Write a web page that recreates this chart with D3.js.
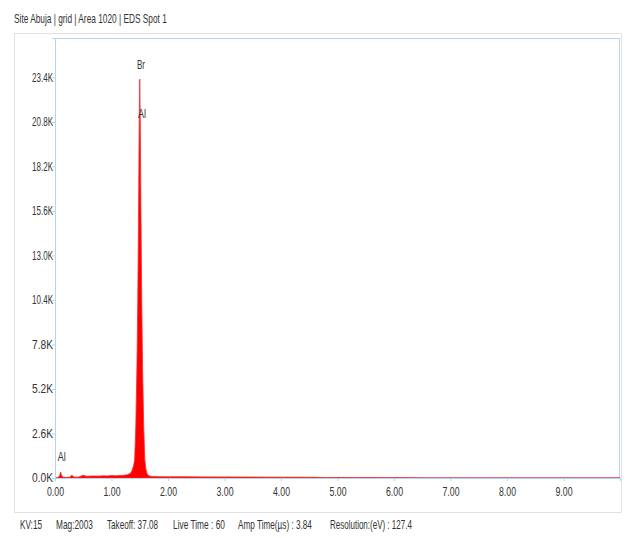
<!DOCTYPE html>
<html><head><meta charset="utf-8">
<script src="https://cdn.jsdelivr.net/npm/d3@7"></script>
<style>
body{margin:0;background:#fff;}
text{font-family:"Liberation Sans",Arial,sans-serif;fill:#333;}
</style></head><body>
<svg id="c" width="626" height="538"></svg>
<script>
const title = "Site Abuja | grid | Area 1020 | EDS Spot 1";
const footer = ["KV:15","Mag:2003","Takeoff: 37.08","Live Time : 60","Amp Time(\u00b5s) : 3.84","Resolution:(eV) : 127.4"];
const footerX = [20,56,107,173,238,330];
const footerW = [22,37,51,52,74,82];
const xTicks = [0,1,2,3,4,5,6,7,8,9];
const yTicks = [0,2600,5200,7800,10400,13000,15600,18200,20800,23400];
const energy = [0.00,0.05,0.08,0.10,0.12,0.15,0.20,0.26,0.28,0.30,0.32,0.36,0.42,0.46,0.50,0.53,0.56,0.62,0.70,0.78,0.85,0.92,1.00,1.08,1.15,1.22,1.28,1.33,1.36,1.39,1.41,1.43,1.45,1.465,1.48,1.49,1.50,1.51,1.52,1.535,1.55,1.57,1.59,1.61,1.63,1.66,1.72,1.85,2.0,2.3,2.6,3.0,3.4,3.8,4.2,4.6,4.8,5.0,5.3,5.5,5.8,6.1,6.5,10.0];
const counts = [0,20,120,350,120,40,30,40,120,175,80,50,60,110,160,130,100,110,120,110,130,120,140,130,150,160,190,260,400,700,1050,3000,6500,10400,16000,20500,23300,20500,16000,10400,6500,3000,1050,500,250,130,90,80,70,75,65,60,55,50,45,40,15,30,10,25,8,15,0,0];
const peakLabels = ["Br","Al","Al"];
const labelE = [1.52,1.54,0.12];
const labelC = [23900,21000,1000];

const svg = d3.select("#c");
const L=55,R=620,T=38,B=478;
const x = d3.scaleLinear().domain([0,10]).range([L,R]);
const y = d3.scaleLinear().domain([0,25700]).range([B,T]);

// squeeze a text horizontally to a given width, about its anchor x
function fit(sel, w){
  sel.each(function(d,i){
    const t = d3.select(this);
    const nat = this.getComputedTextLength();
    const tw = typeof w === "function" ? w(d,i) : w;
    const s = Math.min(1, tw/nat);
    const ax = +t.attr("x") || 0;
    t.attr("transform",`translate(${ax},0) scale(${s},1) translate(${-ax},0)`);
  });
}

// outer panel
svg.append("rect").attr("x",14.5).attr("y",33.5).attr("width",607).attr("height",479)
  .attr("fill","#fff").attr("stroke","#e2e2e2");
// title
svg.append("text").attr("x",14).attr("y",23).attr("font-size",12).text(title).call(fit,153);

// plot frame
svg.append("rect").attr("x",L+0.5).attr("y",T+0.5).attr("width",R-L-1).attr("height",B-T-1)
  .attr("fill","none").attr("stroke","#b7d3ee");

// spectrum
const pts = energy.map((e,i)=>[e,counts[i]]);
const area = d3.area().x(d=>x(d[0])).y0(y(0)).y1(d=>y(d[1]));
svg.append("path").datum(pts).attr("d",area).attr("fill","#ff0000")
  .attr("stroke","#ff2a2a").attr("stroke-width",0.8);

// axes
const ya = d3.axisLeft(y).tickValues(yTicks).tickSize(3).tickFormat(d=>(d/1000).toFixed(1)+"K");
const gy = svg.append("g").attr("transform",`translate(${L},0)`).call(ya);
gy.select(".domain").attr("stroke","#b7d3ee");
gy.selectAll(".tick line").attr("stroke","#b7d3ee");
gy.selectAll("text").attr("font-size",12).attr("fill","#333").attr("x",-2)
  .style("font-family","'Liberation Sans',sans-serif").call(fit,21);

const xa = d3.axisBottom(x).tickValues(xTicks).tickSize(3).tickFormat(d=>d.toFixed(2));
const gx = svg.append("g").attr("transform",`translate(0,${B})`).call(xa);
gx.select(".domain").attr("stroke","#b7d3ee");
gx.selectAll(".tick line").attr("stroke","#b7d3ee");
gx.selectAll("text").attr("font-size",12).attr("fill","#333").attr("dy","1.0em")
  .style("font-family","'Liberation Sans',sans-serif").call(fit,17);

// element labels
svg.selectAll(".lbl").data(peakLabels).enter().append("text").attr("class","lbl")
  .attr("x",(d,i)=>x(labelE[i])).attr("y",(d,i)=>y(labelC[i]))
  .attr("text-anchor","middle").attr("font-size",12).text(d=>d).call(fit,8);

// footer
svg.selectAll(".ft").data(footer).enter().append("text").attr("class","ft")
  .attr("x",(d,i)=>footerX[i]).attr("y",529).attr("font-size",12).text(d=>d)
  .call(fit,(d,i)=>footerW[i]);
</script></body></html>
